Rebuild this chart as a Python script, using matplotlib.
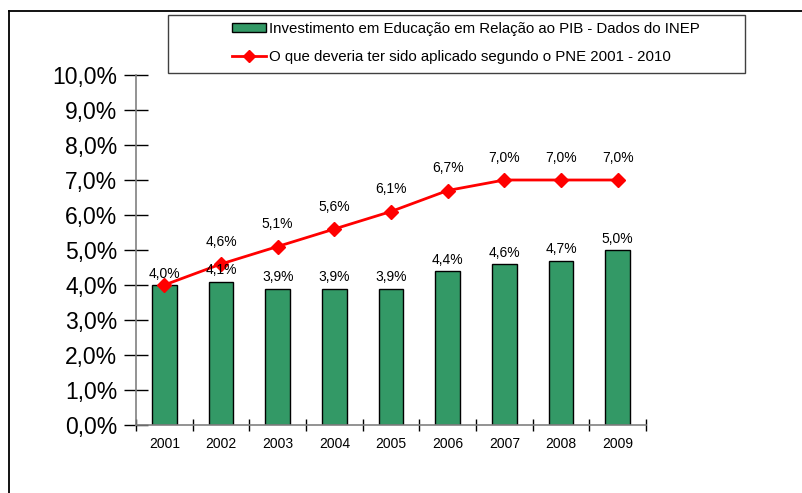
import matplotlib
matplotlib.use('agg')
import matplotlib.pyplot as plt
from matplotlib.lines import Line2D
from matplotlib.patches import Rectangle

anos = ['2001', '2002', '2003', '2004', '2005', '2006', '2007', '2008', '2009']
invest_pib = [4.0, 4.1, 3.9, 3.9, 3.9, 4.4, 4.6, 4.7, 5.0]
meta_pne = [4.0, 4.6, 5.1, 5.6, 6.1, 6.7, 7.0, 7.0, 7.0]
yticks = [0, 1, 2, 3, 4, 5, 6, 7, 8, 9, 10]

label_barras = 'Investimento em Educação em Relação ao PIB - Dados do INEP'
label_linha = 'O que deveria ter sido aplicado segundo o PNE 2001 - 2010'

plt.rcParams['font.family'] = ['Liberation Sans', 'DejaVu Sans']

W, H = 802, 493
fig = plt.figure(figsize=(W / 100, H / 100), dpi=100)
ax = fig.add_axes([136 / W, 1 - 425 / H, (646 - 136) / W, (425 - 75) / H])

def fmt(v):
    return '{:.1f}%'.format(v).replace('.', ',')

x = list(range(len(anos)))
bars = ax.bar(x, invest_pib, width=0.43, color='#339966', edgecolor='black', linewidth=1, zorder=2)
ax.plot(x, meta_pne, color='red', lw=2, marker='D', markersize=7, zorder=3)

for X, Y in zip(x, invest_pib):
    ax.annotate(fmt(Y), xy=(X, Y), xytext=(0, 3), textcoords='offset points',
                ha='center', va='bottom', fontsize=10)
for X, Y, B in zip(x, meta_pne, invest_pib):
    if Y == B:
        # same value as the bar: only one label, as in the original
        continue
    ax.annotate(fmt(Y), xy=(X, Y), xytext=(0, 11), textcoords='offset points',
                ha='center', va='bottom', fontsize=10)

ax.set_xlim(-0.5, len(anos) - 0.5)
ax.set_ylim(0, 10)
ax.set_yticks(yticks)
ax.set_yticklabels([fmt(v) for v in yticks], fontsize=16.5)
ax.set_xticks([i - 0.5 for i in range(len(anos) + 1)])
ax.set_xticklabels([])
ax.set_xticks(x, minor=True)
ax.set_xticklabels(anos, minor=True, fontsize=10)
ax.tick_params(axis='x', which='minor', length=0, pad=9)
ax.tick_params(axis='x', which='major', direction='inout', length=9, width=1, color='black')
ax.tick_params(axis='y', direction='inout', length=17, width=1, color='black', pad=5)

for s in ['top', 'right']:
    ax.spines[s].set_visible(False)
for s in ['left', 'bottom']:
    ax.spines[s].set_color('#808080')
    ax.spines[s].set_linewidth(1.2)

# frame lines of the chart area
fig.add_artist(Line2D([9 / W, 9 / W], [0, 1 - 11 / H], color='black', lw=1.3))
fig.add_artist(Line2D([9 / W, 1], [1 - 11 / H, 1 - 11 / H], color='black', lw=1.3))

# legend box
fig.add_artist(Rectangle((168 / W, 1 - 73 / H), (745 - 168) / W, (73 - 15) / H,
                         transform=fig.transFigure, fill=False, edgecolor='#404040', lw=1))
handles = [Rectangle((0, 0), 1, 1, facecolor='#339966', edgecolor='black', lw=1),
           Line2D([], [], color='red', lw=2, marker='D', markersize=6)]
fig.legend(handles, [label_barras, label_linha], loc='center', frameon=False,
           bbox_to_anchor=(466 / W, 1 - 43 / H), fontsize=10.8, handlelength=2.3,
           handleheight=0.5, handletextpad=0.2, labelspacing=0.95, alignment='left')

plt.savefig('out.png', dpi=100)
